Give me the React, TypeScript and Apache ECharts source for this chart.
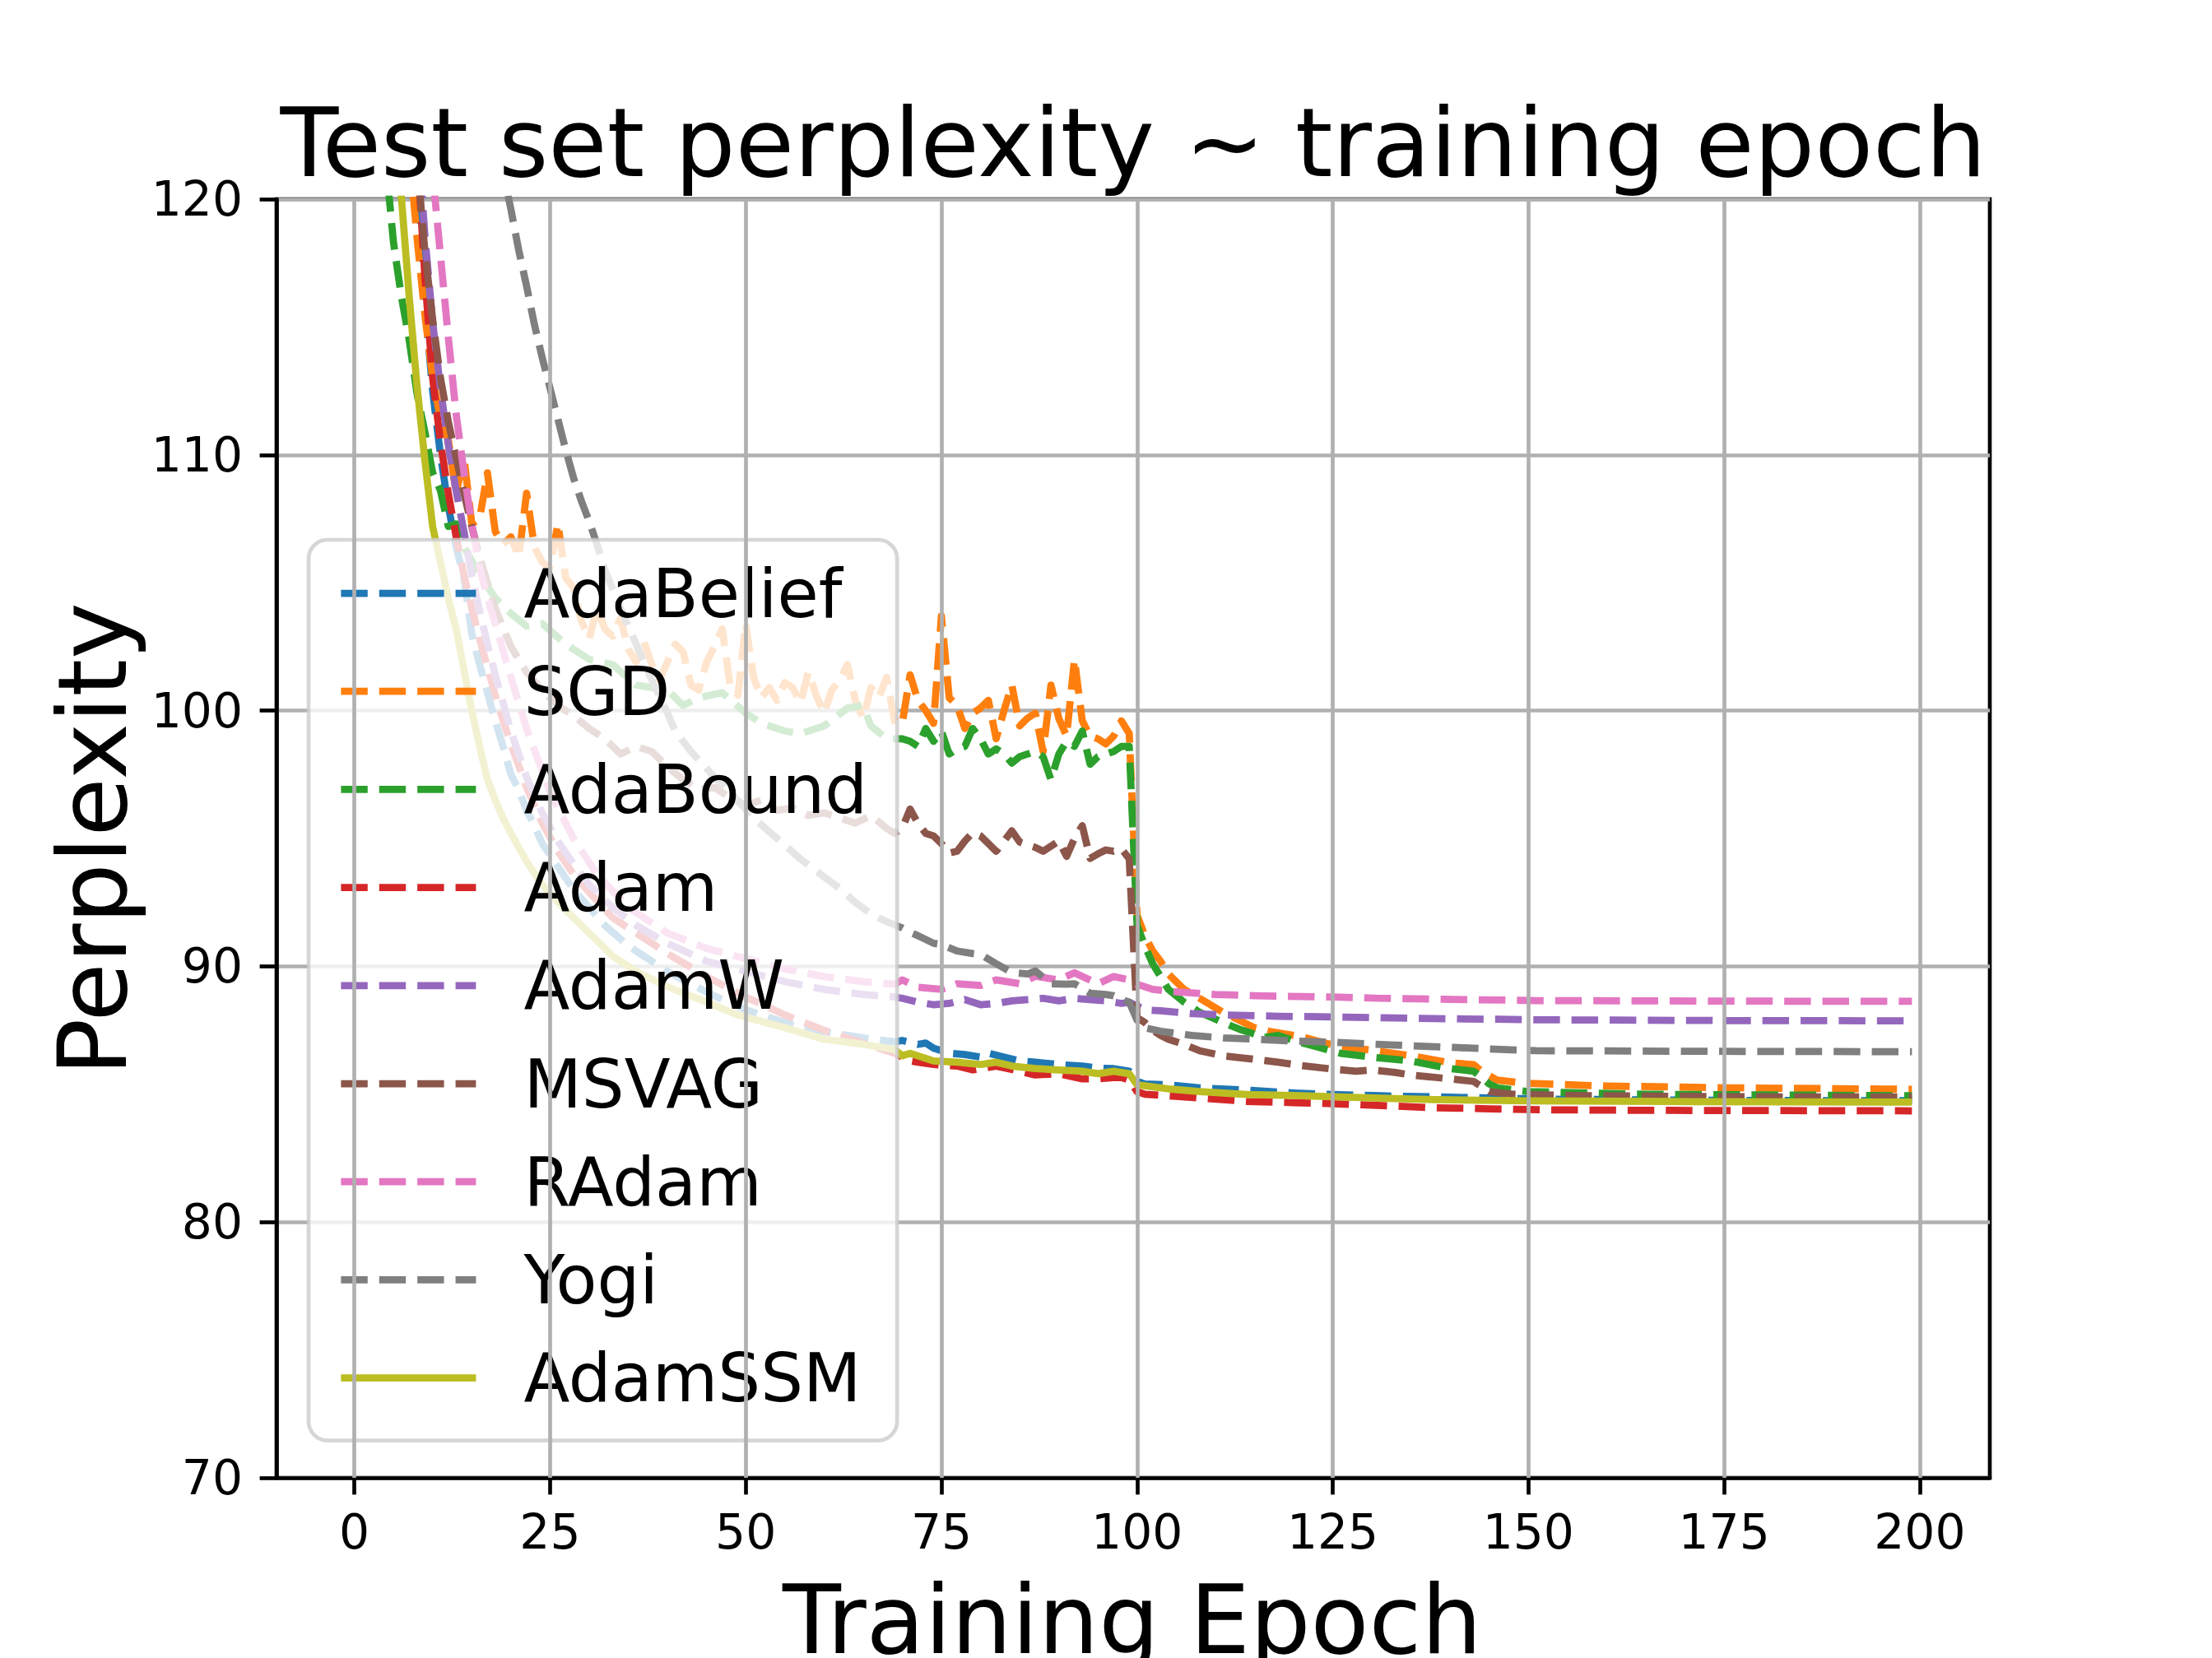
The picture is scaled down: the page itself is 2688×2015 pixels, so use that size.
import React, { useEffect, useRef } from "react";
import * as echarts from "echarts";

const FONT = "DejaVu Sans";

const seriesNames = ["AdaBelief", "SGD", "AdaBound", "Adam", "AdamW", "MSVAG", "RAdam", "Yogi", "AdamSSM"];
const seriesColors = ["#1f77b4", "#ff7f0e", "#2ca02c", "#d62728", "#9467bd", "#8c564b", "#e377c2", "#7f7f7f", "#bcbd22"];
const xTicks = [0, 25, 50, 75, 100, 125, 150, 175, 200];
const titleText = "Test set perplexity ~ training epoch";
const xLabel = "Training Epoch";
const yLabel = "Perplexity";

const adaBelief: number[][] = [
  [6, 135], [7, 127], [8, 121.5], [9, 116], [10, 112.5], [11, 110], [12, 108], [13, 106.4], [14, 105.2], [15, 103.0],
  [16, 101.8], [17, 100.7], [18, 99.6], [19, 98.6], [20, 97.5], [21, 96.9], [22, 96.1], [23, 95.5], [24, 94.8], [26, 93.9],
  [28, 93.0], [30, 92.3], [32, 91.6], [35, 90.8], [37, 90.4], [40, 89.8], [43, 89.3], [47, 88.7], [50, 88.3], [54, 87.9],
  [57, 87.6], [60, 87.45], [65, 87.2], [69, 87.05], [70, 87.1], [72, 86.95], [73, 87.0], [74, 86.8], [76, 86.6], [78, 86.55],
  [80, 86.45], [81, 86.6], [83, 86.45], [85, 86.3], [87, 86.25], [90, 86.16], [93, 86.1], [95, 86.02], [97, 86.0], [98, 85.95],
  [99, 85.9], [100, 85.5], [101, 85.4], [104, 85.37], [108, 85.25], [114, 85.16], [120, 85.05], [125, 84.99], [132, 84.93],
  [138, 84.9], [145, 84.85], [155, 84.8], [170, 84.77], [185, 84.75], [199, 84.75],
];

const sgd: number[][] = [
  [5, 135], [6, 128], [7, 122], [8, 118.5], [9, 115.5], [10, 113], [11, 111.4], [12, 110.6], [13, 108.5], [14, 109.9],
  [15, 107.3], [16, 107.5], [17, 109.3], [18, 107], [19, 106.5], [20, 106.8], [21, 106], [22, 108.5], [23, 106.4], [24, 105.8],
  [25, 105.6], [26, 107.3], [27, 105.2], [28, 104.8], [29, 103.5], [30, 102.8], [31, 104], [32, 103.2], [33, 102.9], [34, 103.6],
  [35, 102.4], [36, 101.9], [37, 102.7], [38, 101.8], [39, 101.2], [40, 101.9], [41, 102.6], [42, 102.3], [43, 101], [44, 100.8],
  [45, 101.9], [46, 102.5], [47, 103.2], [48, 101], [49, 100.6], [50, 103.4], [51, 101.3], [52, 100.5], [53, 100.9], [54, 100.4],
  [55, 101.1], [56, 100.9], [57, 100.3], [58, 101.5], [59, 100.6], [60, 99.9], [61, 100.8], [62, 101.2], [63, 101.8], [64, 100.4],
  [65, 99.7], [66, 100.9], [67, 100.5], [68, 101.3], [69, 99.6], [70, 99.5], [71, 101.4], [72, 100.4], [73, 100], [74, 99.5],
  [75, 103.7], [76, 100.5], [77, 100.2], [78, 99.3], [79, 99.9], [80, 100.1], [81, 100.4], [82, 98.9], [83, 100], [84, 101],
  [85, 99.4], [86, 99.7], [87, 99.9], [88, 98.4], [89, 101], [90, 99.7], [91, 99], [92, 102], [93, 99.6], [94, 99],
  [95, 98.9], [96, 98.7], [97, 99], [98, 99.6], [99, 99.1], [100, 92], [101, 91.2], [102, 90.6], [103, 90.2], [104, 89.7],
  [105, 89.4], [106, 89.1], [108, 88.75], [111, 88.2], [113, 87.9], [115, 87.6], [117, 87.45], [119, 87.35], [121, 87.25],
  [124, 87], [126, 86.87], [130, 86.72], [135, 86.5], [140, 86.23], [143, 86.16], [144, 85.9], [146, 85.55], [150, 85.42],
  [160, 85.32], [175, 85.25], [199, 85.19],
];

const adaBound: number[][] = [
  [3, 128], [4, 121.5], [5, 118.3], [6, 116.2], [7, 114.5], [8, 112.4], [9, 110.9], [10, 109.3], [11, 108.6], [12, 107.2],
  [13, 107.3], [14, 106.4], [16, 105.3], [18, 104.4], [20, 103.8], [22, 103.3], [24, 103.4], [27, 102.6], [30, 102], [33, 101.8],
  [36, 101], [40, 100.8], [42, 100.2], [44, 100.5], [47, 100.7], [50, 99.9], [52, 99.5], [55, 99.2], [57, 99.1], [60, 99.4],
  [63, 100.1], [65, 100.2], [66, 99.4], [68, 98.9], [69, 98.9], [70, 98.9], [71, 98.8], [72, 98.6], [73, 99.3], [74, 98.8],
  [75, 99.2], [76, 98.3], [77, 98.5], [78, 98.6], [79, 99.3], [80, 98.9], [81, 98.3], [82, 98.5], [83, 98.3], [84, 97.95],
  [85, 98.2], [86, 98.3], [87, 98.4], [88, 98.2], [89, 97.3], [90, 98.3], [91, 98.8], [92, 98.6], [93, 99.2], [94, 97.9],
  [95, 98.2], [96, 98.3], [97, 98.4], [98, 98.6], [99, 98.6], [100, 91.6], [101, 90.8], [102, 90.1], [103, 89.6], [104, 89.1],
  [106, 88.6], [108, 88.2], [111, 87.8], [113, 87.55], [115, 87.35], [116, 87.2], [118, 87.3], [120, 87.1], [123, 86.85],
  [126, 86.6], [130, 86.45], [135, 86.3], [140, 86.0], [143, 85.9], [145, 85.4], [146, 85.25], [150, 85.1], [165, 85.0],
  [199, 84.94],
];

const adam: number[][] = [
  [6, 140], [7, 130], [8, 122], [9, 117], [10, 113], [11, 110.5], [12, 108.5], [13, 106.8], [14, 105.3], [15, 104],
  [16, 102.8], [17, 101.7], [18, 100.6], [19, 99.6], [20, 98.7], [22, 97], [24, 95.6], [26, 94.5], [28, 93.6], [30, 92.9],
  [33, 91.9], [36, 91.3], [38, 90.9], [40, 90.5], [45, 89.6], [50, 88.8], [55, 88.1], [60, 87.5], [65, 87.0], [69, 86.6],
  [70, 86.45], [71, 86.3], [72, 86.25], [74, 86.16], [77, 86.1], [79, 85.95], [82, 86.1], [85, 85.9], [87, 85.75], [90, 85.8],
  [93, 85.6], [95, 85.6], [97, 85.65], [98, 85.65], [99, 85.55], [100, 85.1], [101, 85.0], [104, 84.94], [108, 84.85],
  [114, 84.72], [120, 84.67], [125, 84.63], [132, 84.55], [138, 84.47], [145, 84.43], [152, 84.39], [165, 84.37], [180, 84.36],
  [199, 84.35],
];

const adamW: number[][] = [
  [7, 130], [8, 123], [9, 118.6], [10, 115.2], [11, 112.6], [12, 110.4], [13, 108.6], [14, 107.0], [15, 105.3], [16, 103.9],
  [17, 102.6], [18, 101.4], [20, 99.2], [22, 97.4], [24, 96.0], [26, 94.9], [28, 94.0], [30, 93.2], [33, 92.3], [36, 91.6],
  [40, 90.9], [45, 90.2], [50, 89.8], [55, 89.4], [60, 89.1], [65, 88.9], [69, 88.8], [70, 88.75], [72, 88.6], [74, 88.5],
  [76, 88.55], [78, 88.7], [80, 88.5], [82, 88.55], [84, 88.65], [86, 88.7], [88, 88.75], [90, 88.65], [92, 88.75], [94, 88.7],
  [96, 88.65], [98, 88.55], [99, 88.6], [100, 88.45], [101, 88.3], [103, 88.26], [107, 88.15], [111, 88.1], [118, 88.05],
  [125, 88.02], [135, 87.97], [151, 87.91], [175, 87.88], [199, 87.87],
];

const msvag: number[][] = [
  [7, 128], [8, 121.5], [9, 118], [10, 115.3], [11, 113], [12, 111.3], [13, 109.9], [14, 108.5], [15, 107.2], [16, 106],
  [17, 105], [18, 104], [20, 102.5], [22, 101.5], [24, 100.8], [26, 100.2], [28, 99.8], [30, 99.3], [32, 98.9], [34, 98.3],
  [36, 98.6], [38, 98.4], [40, 97.8], [42, 97.3], [44, 96.9], [46, 97], [48, 96.6], [50, 96.3], [52, 96.5], [54, 96.1],
  [56, 96.2], [58, 95.9], [60, 96], [62, 95.8], [64, 95.6], [66, 95.9], [68, 95.4], [69, 95.2], [70, 95.4], [71, 96.15],
  [72, 95.6], [73, 95.2], [74, 95.1], [75, 94.8], [76, 94.43], [77, 94.5], [78, 94.9], [79, 95.23], [80, 95.1], [81, 94.8],
  [82, 94.5], [83, 94.9], [84, 95.3], [85, 94.86], [86, 94.75], [87, 94.65], [88, 94.5], [89, 94.7], [90, 94.9], [91, 94.3],
  [92, 95], [93, 95.5], [94, 94.22], [95, 94.4], [96, 94.55], [97, 94.5], [98, 94.6], [99, 94.2], [100, 88.0], [101, 87.8],
  [102, 87.5], [103, 87.3], [104, 87.15], [106, 86.95], [108, 86.7], [111, 86.5], [114, 86.4], [118, 86.25], [121, 86.12],
  [125, 85.98], [128, 85.9], [130, 85.95], [133, 85.85], [135, 85.75], [137, 85.69], [140, 85.6], [143, 85.5], [145, 85.1],
  [148, 85.0], [155, 84.95], [175, 84.9], [199, 84.89],
];

const rAdam: number[][] = [
  [8, 128], [9, 124], [10, 121], [11, 117.8], [12, 114.6], [13, 111.6], [14, 109.3], [15, 107.3], [16, 105.6], [17, 104.4],
  [18, 103.4], [20, 101.3], [22, 99.3], [25, 96.8], [28, 95], [31, 93.6], [35, 92.3], [40, 91.3], [45, 90.7], [50, 90.3],
  [55, 89.9], [60, 89.6], [65, 89.4], [69, 89.3], [70, 89.47], [72, 89.18], [75, 89.1], [77, 89.32], [80, 89.25], [82, 89.47],
  [85, 89.32], [87, 89.61], [90, 89.47], [92, 89.75], [95, 89.32], [97, 89.6], [99, 89.47], [100, 89.3], [102, 89.1],
  [105, 89.0], [110, 88.9], [115, 88.85], [125, 88.8], [131, 88.75], [151, 88.66], [175, 88.64], [199, 88.63],
];

const yogi: number[][] = [
  [16, 126], [18, 122.5], [20, 119.6], [21, 118], [22, 116.6], [23, 115.1], [24, 113.8], [25, 112.6], [26, 111.4], [27, 110.2],
  [28, 109.1], [29, 108.2], [30, 107.4], [31, 106.5], [32, 105.5], [34, 104.0], [36, 102.6], [38, 101.2], [40, 99.9], [41, 99.2],
  [43, 98.4], [46, 97.4], [48, 96.8], [51, 95.8], [54, 95.0], [57, 94.2], [60, 93.5], [62, 93.05], [64, 92.5], [66, 92.05],
  [68, 91.75], [70, 91.5], [71, 91.33], [72, 91.2], [74, 90.9], [75, 90.85], [77, 90.6], [79, 90.5], [80, 90.47], [82, 90.1],
  [84, 89.76], [86, 89.7], [87, 89.82], [89, 89.32], [91, 89.3], [92, 89.32], [94, 88.95], [96, 88.9], [97, 88.85], [98, 88.7],
  [99, 88.6], [100, 87.9], [101, 87.6], [103, 87.46], [107, 87.3], [111, 87.2], [115, 87.15], [120, 87.08], [125, 87.03],
  [133, 86.92], [141, 86.82], [151, 86.7], [170, 86.68], [199, 86.66],
];

const adamSSM: number[][] = [
  [4, 138], [5, 128], [6, 120.1], [7, 116.2], [8, 112.7], [9, 109.8], [10, 107.2], [11, 105.8], [12, 104.4], [13, 103.2],
  [14, 101.6], [15, 100.0], [16, 98.6], [17, 97.3], [18, 96.5], [19, 95.8], [20, 95.2], [22, 94.1], [24, 93.2], [26, 92.5],
  [28, 91.9], [30, 91.3], [33, 90.4], [36, 89.8], [40, 89.2], [45, 88.6], [49, 88.1], [55, 87.6], [60, 87.15], [65, 86.95],
  [69, 86.75], [70, 86.5], [71, 86.6], [74, 86.3], [77, 86.25], [80, 86.16], [82, 86.25], [84, 86.1], [87, 86.0], [90, 85.95],
  [93, 85.9], [95, 85.8], [97, 85.9], [98, 85.85], [99, 85.8], [100, 85.37], [104, 85.21], [108, 85.1], [114, 84.99],
  [120, 84.95], [125, 84.9], [132, 84.84], [138, 84.79], [150, 84.74], [170, 84.71], [199, 84.69],
];

const seriesData = [adaBelief, sgd, adaBound, adam, adamW, msvag, rAdam, yogi, adamSSM];

const DASH = [32.4, 14];
const LW = 8.75;
const THIN = 4.67;

export default function App() {
  const ref = useRef<HTMLDivElement>(null);

  useEffect(() => {
    if (!ref.current) return;
    const chart = echarts.init(ref.current, null, { renderer: "svg" });

    const lineSeries = seriesNames.map((name, i) => ({
      type: "line",
      name,
      data: seriesData[i],
      color: seriesColors[i],
      showSymbol: false,
      symbol: "none",
      clip: true,
      silent: true,
      z: 2,
      emphasis: { disabled: true },
      lineStyle: {
        color: seriesColors[i],
        width: LW,
        type: i === 8 ? "solid" : DASH,
        cap: "butt",
        join: "round",
      },
    }));

    const option: any = {
      animation: false,
      backgroundColor: "#ffffff",
      textStyle: { fontFamily: FONT },
      grid: {
        left: 336,
        top: 242,
        width: 2082,
        height: 1554,
        show: true,
        borderColor: "#000000",
        borderWidth: THIN,
        backgroundColor: "transparent",
      },
      xAxis: {
        type: "value",
        min: -9.95,
        max: 208.95,
        axisLine: { show: true, onZero: false, lineStyle: { color: "#000", width: THIN } },
        axisTick: { show: true, customValues: xTicks, length: 20.4, lineStyle: { color: "#000", width: THIN } },
        axisLabel: { customValues: xTicks, margin: 37, fontSize: 58.3, color: "#000", fontFamily: FONT },
        splitLine: { show: false },
      },
      yAxis: {
        type: "value",
        min: 70,
        max: 120,
        interval: 10,
        axisLine: { show: true, onZero: false, lineStyle: { color: "#000", width: THIN } },
        axisTick: { show: true, length: 20.4, lineStyle: { color: "#000", width: THIN } },
        axisLabel: { margin: 41, fontSize: 58.3, color: "#000", fontFamily: FONT },
        splitLine: { show: true, lineStyle: { color: "#b0b0b0", width: THIN } },
      },
      legend: {
        data: seriesNames,
        orient: "vertical",
        left: 375,
        top: 656,
        padding: [24, 36, 35, 35],
        itemWidth: 164,
        itemHeight: 82,
        itemGap: 37.2,
        selectedMode: false,
        backgroundColor: "rgba(255,255,255,0.8)",
        borderColor: "rgba(204,204,204,0.8)",
        borderWidth: THIN,
        borderRadius: 23,
        itemStyle: { opacity: 0, borderWidth: 0 },
        lineStyle: { width: LW },
        textStyle: {
          fontSize: 81.7,
          fontFamily: FONT,
          color: "#000",
          lineHeight: 82,
          padding: [0, 0, 0, 53],
        },
      },
      graphic: [
        {
          type: "text",
          x: 1377,
          y: 173.4,
          silent: true,
          style: { text: titleText, fontSize: 116, fontFamily: FONT, fill: "#000", align: "center", verticalAlign: "middle" },
        },
        {
          type: "text",
          x: 1376,
          y: 1968,
          silent: true,
          style: { text: xLabel, fontSize: 116, fontFamily: FONT, fill: "#000", align: "center", verticalAlign: "middle" },
        },
        {
          type: "text",
          x: 112.8,
          y: 1020,
          rotation: Math.PI / 2,
          silent: true,
          style: { text: yLabel, fontSize: 116, fontFamily: FONT, fill: "#000", align: "center", verticalAlign: "middle" },
        },
      ],
      series: [
        {
          type: "line",
          name: "__xgrid",
          data: [],
          z: 1,
          silent: true,
          markLine: {
            silent: true,
            symbol: ["none", "none"],
            label: { show: false },
            emphasis: { disabled: true },
            lineStyle: { color: "#b0b0b0", width: THIN, type: "solid" },
            data: xTicks.map((v) => ({ xAxis: v })),
          },
        },
        ...lineSeries,
      ],
    };

    chart.setOption(option);
    return () => chart.dispose();
  }, []);

  return (
    <div
      ref={ref}
      style={{ position: "fixed", left: 0, top: 0, width: 2688, height: 2015, background: "#ffffff" }}
    />
  );
}
